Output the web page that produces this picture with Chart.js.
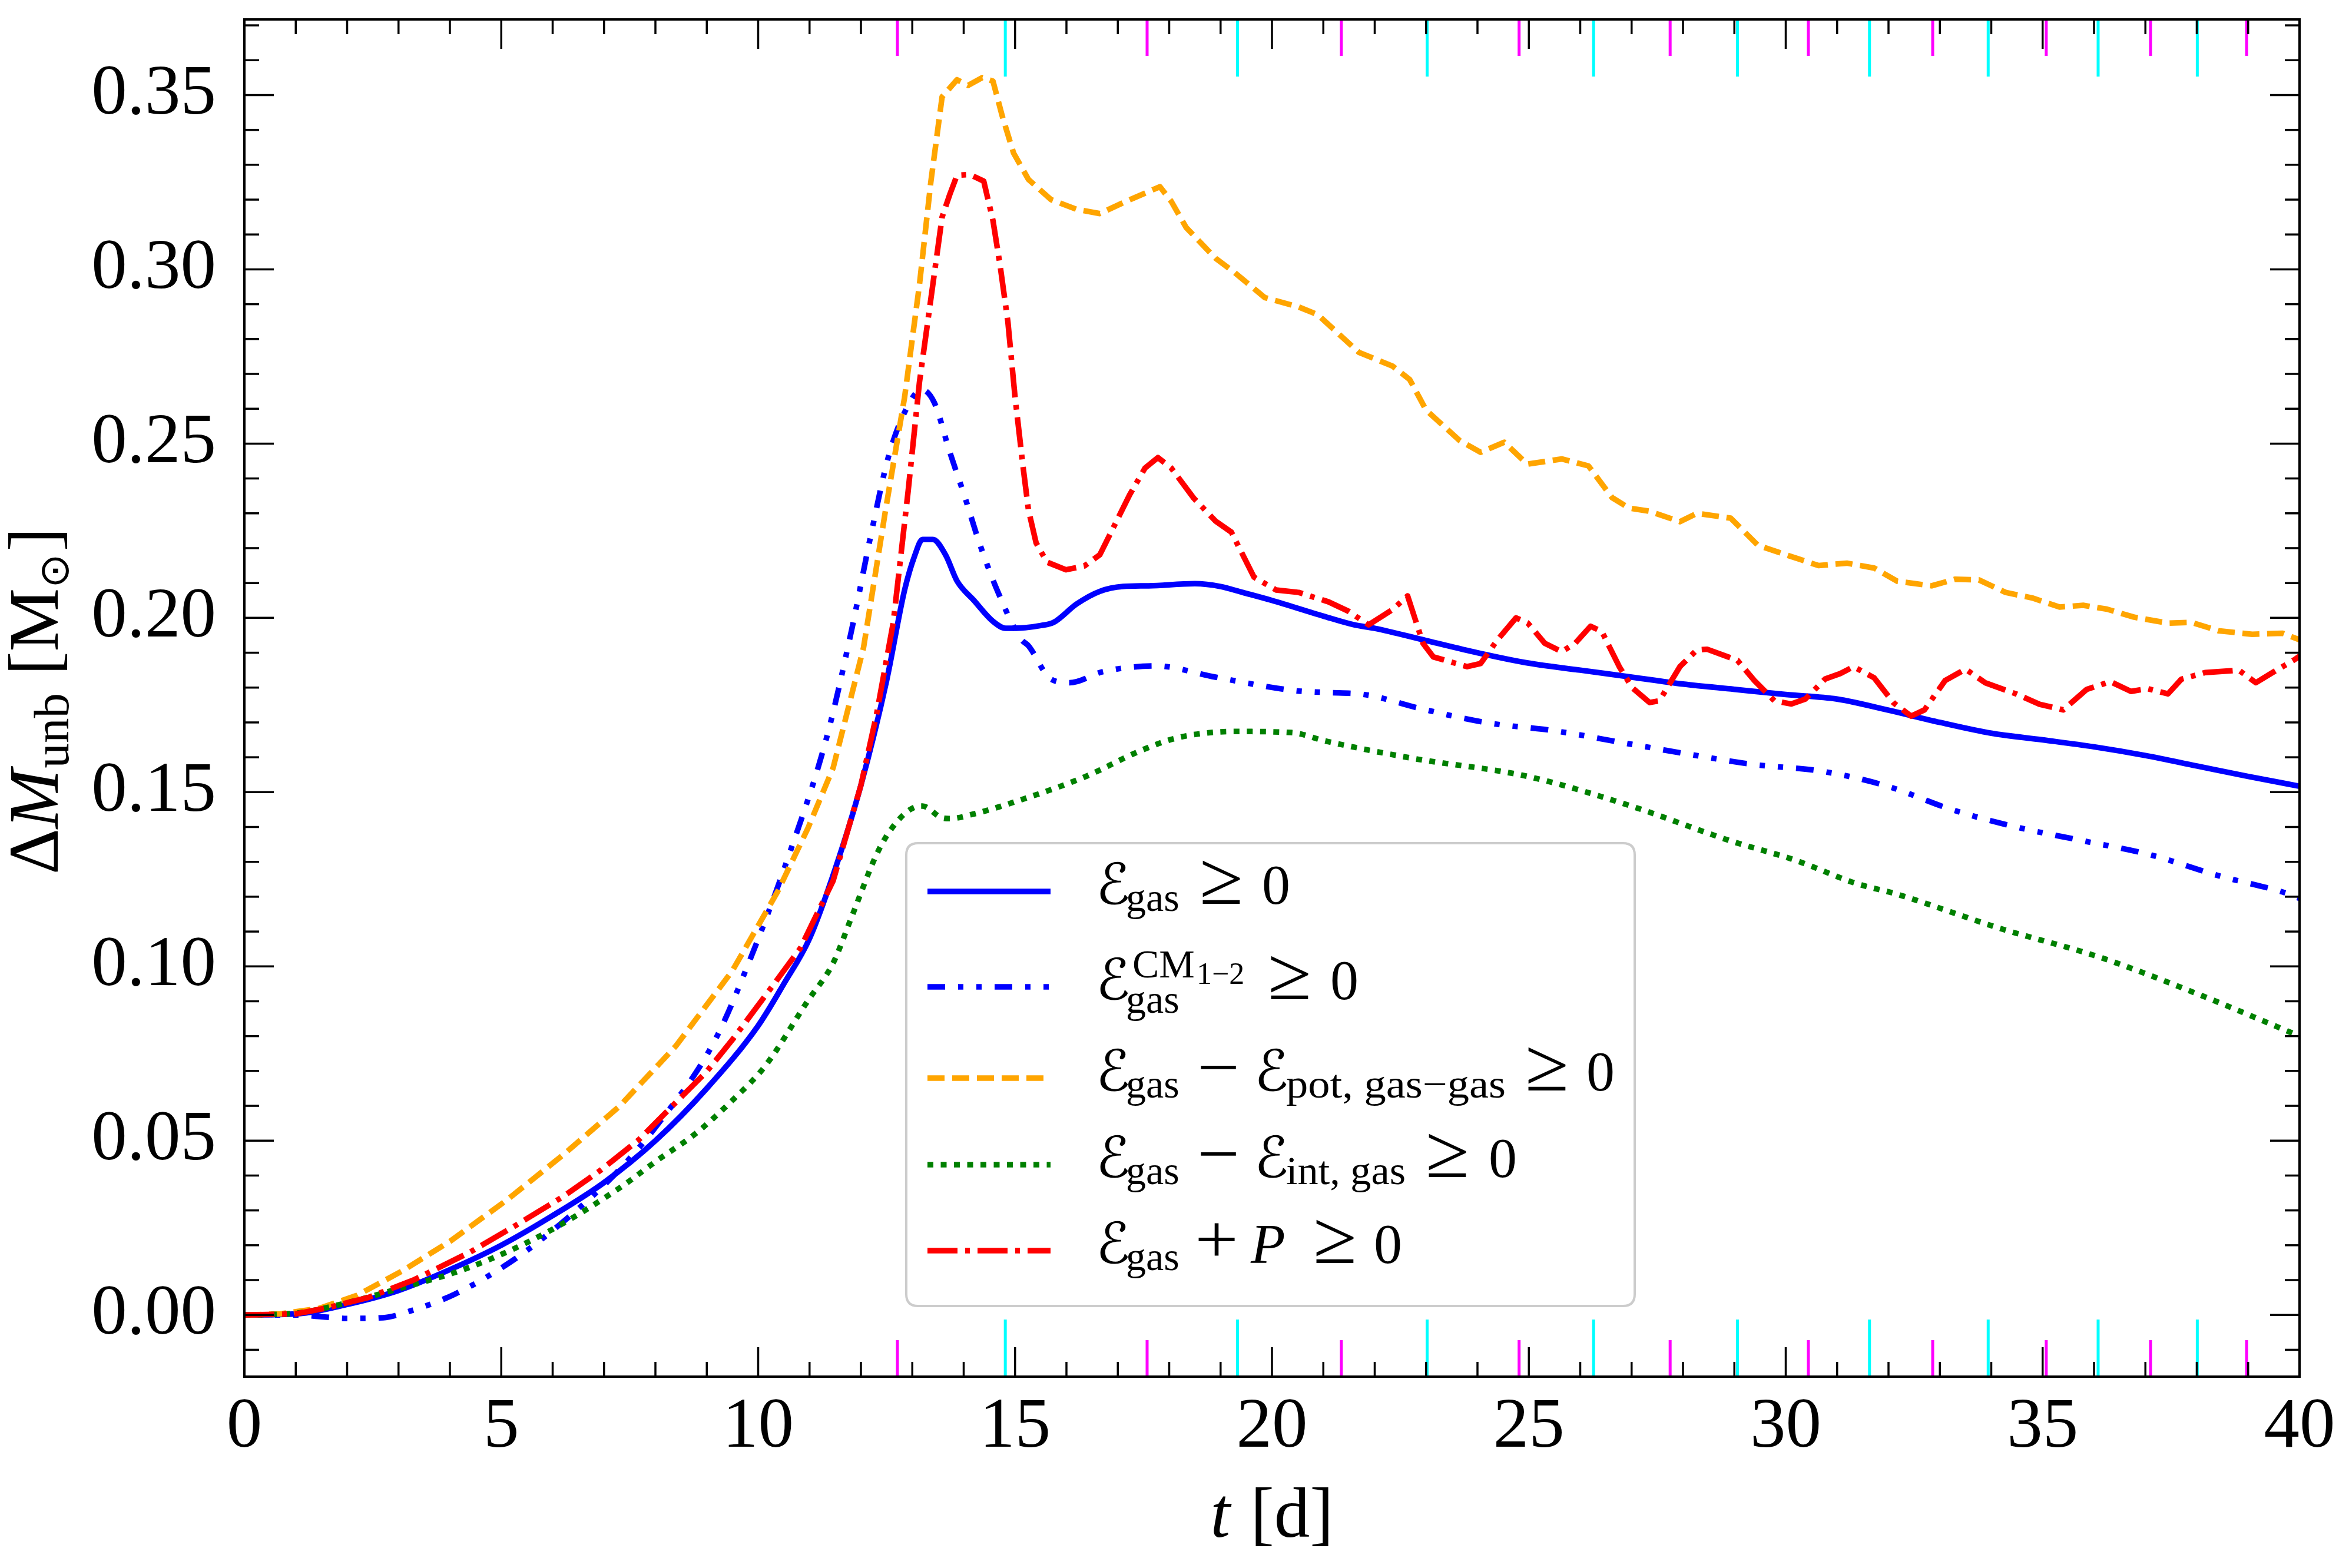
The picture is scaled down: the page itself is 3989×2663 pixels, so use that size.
<!DOCTYPE html>
<html>
<head>
<meta charset="utf-8">
<script src="https://cdn.jsdelivr.net/npm/chart.js@4.4.1/dist/chart.umd.min.js"></script>
<style>
html,body{margin:0;padding:0;background:#ffffff;}
canvas{display:block;}
</style>
</head>
<body>
<canvas id="c" width="3989" height="2663"></canvas>
<script>
// ---------------- data ----------------
const xTicks = [0, 5, 10, 15, 20, 25, 30, 35, 40];
const yTicks = [0.00, 0.05, 0.10, 0.15, 0.20, 0.25, 0.30, 0.35];
const xRange = [0, 40];
const yRange = [-0.0177, 0.3717];

// E_gas >= 0
const gasT = [0,1,2,3,4,5,6,7,8,9,10,10.5,11,11.5,12,12.5,12.85,13.05,13.2,13.4,13.65,13.87,14.2,14.57,14.82,15.2,15.5,15.75,16.2,16.65,17.1,17.6,18.5,19,19.43,20,21,21.6,22,23,24,25,26,27,28,29,30,31,32,33,34,35,36,37,38,39,40];
const gasV = [0,0.0003,0.003,0.007,0.013,0.020,0.0285,0.038,0.050,0.065,0.083,0.095,0.108,0.128,0.152,0.182,0.208,0.218,0.2225,0.2225,0.218,0.2106,0.205,0.199,0.197,0.1972,0.1978,0.1987,0.204,0.2076,0.209,0.2092,0.2098,0.209,0.2073,0.205,0.2005,0.198,0.197,0.1935,0.190,0.187,0.185,0.183,0.181,0.1795,0.178,0.1767,0.1735,0.170,0.1669,0.165,0.163,0.1605,0.1575,0.1545,0.1517];

// E_gas^{CM1-2} >= 0
const cmT = [0,1,1.5,2,2.7,3.2,4.1,5.26,6.36,7.3,8.04,9.13,9.87,10.6,11.33,11.82,12.19,12.55,12.92,13.18,13.43,13.72,14.02,14.31,14.67,15.11,15.26,15.7,16.06,16.72,17.74,18.9,20.4,21.03,21.8,22.94,24.19,25.5,26.82,28.14,29.39,30.7,31.98,33.23,34.48,35.8,37.1,38.43,39.74,40];
const cmV = [0,0,-0.0005,-0.001,-0.0008,0.001,0.006,0.016,0.0287,0.0417,0.0546,0.078,0.103,0.132,0.1655,0.1966,0.2235,0.247,0.261,0.2655,0.2617,0.248,0.2348,0.2213,0.2073,0.194,0.192,0.1824,0.1814,0.1846,0.1862,0.183,0.1792,0.1786,0.178,0.1738,0.1699,0.1676,0.1642,0.1608,0.1579,0.156,0.1517,0.145,0.140,0.136,0.132,0.126,0.121,0.1195];

// E_gas - E_pot,gas-gas >= 0
const potT = [0,0.7,1.46,2.19,3.07,4.02,5.12,6.21,7.31,8.4,9.5,10.38,10.97,11.46,12.05,12.48,12.85,13.14,13.36,13.58,13.87,14.09,14.36,14.57,14.75,14.97,15.26,15.7,16.2,16.65,17.16,17.82,18.04,18.33,18.9,19.28,19.86,20.52,20.89,21.69,22.35,22.68,23.0,23.66,24.06,24.52,24.97,25.64,26.16,26.62,26.95,27.35,27.94,28.27,28.93,29.46,30.25,30.64,31.19,31.72,32.17,32.84,33.3,33.76,34.28,34.8,35.33,35.79,36.25,36.78,37.44,37.9,38.42,39.08,39.67,40];
const potV = [0,0.0003,0.0019,0.0056,0.0126,0.0213,0.0331,0.046,0.060,0.0772,0.0988,0.1215,0.1397,0.157,0.1914,0.231,0.2633,0.2957,0.325,0.3495,0.3544,0.3528,0.355,0.354,0.344,0.3334,0.3258,0.320,0.3172,0.316,0.3195,0.3237,0.3195,0.312,0.3032,0.299,0.2919,0.2892,0.287,0.2762,0.2722,0.2684,0.2596,0.2508,0.2475,0.2504,0.2441,0.2456,0.2436,0.2345,0.2315,0.2306,0.2276,0.230,0.2286,0.2208,0.2169,0.215,0.2157,0.2143,0.2105,0.2092,0.2111,0.2109,0.2073,0.2057,0.2031,0.2036,0.2025,0.2002,0.1985,0.1987,0.1963,0.1953,0.1956,0.1937];

// E_gas - E_int,gas >= 0
const intT = [0,1,1.83,2.92,4.39,5.85,7.31,8.04,8.77,9.5,10.14,10.96,11.46,11.83,12.33,12.7,13.07,13.2,13.58,13.73,14.16,15.26,16.36,17.46,18.19,19.28,20.38,21.03,22.7,24.98,26.95,28.93,30.2,31.35,32.17,34.15,36.12,38.1,40];
const intV = [0,0.0005,0.0029,0.0072,0.0137,0.0234,0.0365,0.0444,0.0519,0.0616,0.0715,0.090,0.101,0.1146,0.1329,0.1415,0.1458,0.146,0.1426,0.1424,0.1436,0.1485,0.1544,0.162,0.1657,0.1674,0.1671,0.1647,0.1598,0.1545,0.1462,0.136,0.1304,0.1239,0.1207,0.111,0.1026,0.0916,0.080];

// E_gas + P >= 0
const presT = [0,1,1.6,2.41,3.29,4.39,5.26,6.21,6.95,7.68,8.4,8.99,9.5,10.23,10.82,11.46,12.0,12.3,12.63,12.92,13.14,13.36,13.58,13.73,13.87,14.12,14.39,14.57,14.71,14.86,15.0,15.15,15.26,15.41,15.62,15.99,16.35,16.65,16.94,17.23,17.53,17.78,18.04,18.48,18.9,19.21,19.65,20.08,20.52,21.1,21.49,21.88,22.35,22.64,22.94,23.14,23.8,24.06,24.39,24.75,24.98,25.31,25.64,25.9,26.2,26.42,26.76,27.01,27.35,27.54,27.94,28.27,28.47,29.06,29.39,29.78,30.11,30.38,30.77,31.06,31.32,31.72,32.1,32.44,32.7,33.1,33.5,33.88,34.48,34.94,35.4,35.86,36.32,36.72,37.04,37.44,37.7,38.16,38.82,39.15,39.55,39.87,40];
const presV = [0,0.0003,0.002,0.005,0.010,0.018,0.0255,0.034,0.0417,0.0503,0.061,0.0697,0.079,0.0934,0.1052,0.1246,0.152,0.172,0.1987,0.2365,0.2677,0.2914,0.315,0.3215,0.327,0.3272,0.3253,0.314,0.301,0.285,0.2633,0.244,0.231,0.2215,0.216,0.2138,0.2149,0.2181,0.2267,0.2353,0.243,0.246,0.243,0.2343,0.2278,0.2246,0.2117,0.208,0.2073,0.2046,0.2019,0.198,0.2024,0.2063,0.1927,0.1888,0.186,0.1869,0.1937,0.200,0.1985,0.1927,0.1903,0.1927,0.1976,0.1961,0.186,0.180,0.1757,0.1762,0.186,0.1908,0.191,0.1878,0.182,0.1762,0.1753,0.1767,0.1825,0.184,0.186,0.1828,0.1756,0.1718,0.1736,0.182,0.1853,0.1814,0.1782,0.1752,0.1736,0.1795,0.1817,0.1789,0.1797,0.1782,0.1824,0.1843,0.185,0.1814,0.185,0.1877,0.189];

// event markers along top/bottom axes (times in d)
const magentaT = [12.71, 17.57, 21.35, 24.81, 27.75, 30.44, 32.86, 35.07, 37.10, 38.97];
const cyanT = [14.81, 19.33, 23.02, 26.26, 29.06, 31.63, 33.94, 36.08, 38.01];

// ---------------- styling ----------------
const W = 3989, H = 2663;
const AREA = {left: 415, top: 33, right: 3905, bottom: 2338};
const LW = 9.5;
const styles = [
  {key:'gas',  color:'#0000ff', dash:[],                       order:5, mono:true},
  {key:'cm',   color:'#0000ff', dash:[30,22,9,22,9,22],        order:4, mono:true},
  {key:'pot',  color:'#ffa500', dash:[29,13],                  order:3, mono:false},
  {key:'int',  color:'#008000', dash:[10,12.5],                order:2, mono:true},
  {key:'pres', color:'#ff0000', dash:[51,13,8,13],             order:1, mono:false}
];
const seriesData = {
  gas: [gasT, gasV], cm: [cmT, cmV], pot: [potT, potV], int: [intT, intV], pres: [presT, presV]
};
function pts(T, V) { return T.map((t, i) => ({x: t, y: V[i]})); }

const SERIF = "'Liberation Serif', 'DejaVu Serif', serif";
const SCRIPT = "'DejaVu Serif', 'DejaVu Sans', 'Noto Sans', serif";
const SYM = "'DejaVu Sans', 'DejaVu Serif', sans-serif";
const TICK_PX = 121;

function rom(px) { return px + 'px ' + SERIF; }
function ita(px) { return 'italic ' + px + 'px ' + SERIF; }
function scr(px) { return px + 'px ' + SCRIPT; }
function sym(px) { return px + 'px ' + SYM; }

// legend rows: tokens placed at x offsets (px) from text start, dy from row baseline
const LM = 96, LS = 68, LSS = 52;
const REL = rom(128);
const OPS = rom(118);
const legendRows = [
  {key:'gas', base:1535, tokens:[
    {s:'ℰ', f:scr(LM), x:0}, {s:'gas', f:rom(LS), x:51, dy:12},
    {s:'≥', f:REL, x:176, w:74}, {s:'0', f:rom(LM), x:282}]},
  {key:'cm', base:1697, tokens:[
    {s:'ℰ', f:scr(LM), x:0}, {s:'CM', f:rom(LS), x:62, dy:-37},
    {s:'1−2', f:rom(LSS), x:171, dy:-26}, {s:'gas', f:rom(LS), x:51, dy:23},
    {s:'≥', f:REL, x:292, w:74}, {s:'0', f:rom(LM), x:398}]},
  {key:'pot', base:1852, tokens:[
    {s:'ℰ', f:scr(LM), x:0}, {s:'gas', f:rom(LS), x:51, dy:12},
    {s:'−', f:OPS, x:172, w:72}, {s:'ℰ', f:scr(LM), x:269},
    {s:'pot, gas−gas', f:rom(LS), x:323, dy:12, w:373},
    {s:'≥', f:REL, x:729, w:74}, {s:'0', f:rom(LM), x:833}]},
  {key:'int', base:1999, tokens:[
    {s:'ℰ', f:scr(LM), x:0}, {s:'gas', f:rom(LS), x:51, dy:12},
    {s:'−', f:OPS, x:172, w:72}, {s:'ℰ', f:scr(LM), x:269},
    {s:'int, gas', f:rom(LS), x:323, dy:12, w:203},
    {s:'≥', f:REL, x:560, w:74}, {s:'0', f:rom(LM), x:667}]},
  {key:'pres', base:2145, tokens:[
    {s:'ℰ', f:scr(LM), x:0}, {s:'gas', f:rom(LS), x:51, dy:12},
    {s:'+', f:OPS, x:168, w:74}, {s:'P', f:ita(LM), x:263},
    {s:'≥', f:REL, x:369, w:74}, {s:'0', f:rom(LM), x:472}]}
];
const LEG = {x0:1539, y0:1432, x1:2776, y1:2218, r:20, lineX0:1575, lineX1:1784, textX:1861};

function drawTokensAbs(ctx, x0, y0, tokens) {
  ctx.textBaseline = 'alphabetic';
  ctx.textAlign = 'left';
  for (const tk of tokens) {
    ctx.font = tk.f;
    const x = x0 + tk.x, y = y0 + (tk.dy || 0);
    if (tk.w) {
      const m = ctx.measureText(tk.s).width;
      ctx.save(); ctx.translate(x, y); ctx.scale(tk.w / m, 1); ctx.fillText(tk.s, 0, 0); ctx.restore();
    } else {
      ctx.fillText(tk.s, x, y);
    }
  }
}
function flowWidth(ctx, tokens) {
  let w = 0;
  for (const tk of tokens) { ctx.font = tk.f; w += ctx.measureText(tk.s).width + (tk.gap || 0); }
  return w;
}
function drawFlow(ctx, x, y, tokens) {
  ctx.textBaseline = 'alphabetic'; ctx.textAlign = 'left';
  for (const tk of tokens) {
    ctx.font = tk.f;
    ctx.fillText(tk.s, x, y + (tk.dy || 0));
    x += ctx.measureText(tk.s).width + (tk.gap || 0);
  }
}

const xTitle = [{s:'t', f:ita(TICK_PX), gap:4}, {s:' [d]', f:rom(TICK_PX)}];
const yTitle = [
  {s:'Δ', f:rom(TICK_PX)}, {s:'M', f:ita(TICK_PX), gap:2},
  {s:'unb', f:rom(85), dy:18},
  {s:' [M', f:rom(TICK_PX)}, {s:'⊙', f:sym(70), dy:18, gap:4}, {s:']', f:rom(TICK_PX)}
];

const decor = {
  id: 'decor',
  afterDatasetsDraw(chart) {
    const ctx = chart.ctx, a = chart.chartArea, xs = chart.scales.x, ys = chart.scales.y;
    ctx.save();
    ctx.lineCap = 'butt';
    function seg(x1, y1, x2, y2) { ctx.beginPath(); ctx.moveTo(x1, y1); ctx.lineTo(x2, y2); ctx.stroke(); }
    // event markers
    ctx.lineWidth = 5;
    ctx.strokeStyle = '#ff00ff';
    for (const t of magentaT) { const p = xs.getPixelForValue(t); seg(p, a.bottom, p, a.bottom - 62); seg(p, a.top, p, a.top + 62); }
    ctx.strokeStyle = '#00ffff';
    for (const t of cyanT) { const p = xs.getPixelForValue(t); seg(p, a.bottom, p, a.bottom - 97); seg(p, a.top, p, a.top + 97); }
    // ticks (inward, all four sides)
    ctx.strokeStyle = '#000000';
    ctx.lineWidth = 3.5;
    for (let t = xRange[0]; t <= xRange[1] + 1e-9; t += 1) {
      const major = Math.abs(t / 5 - Math.round(t / 5)) < 1e-9;
      const len = major ? 50 : 25;
      const p = xs.getPixelForValue(t);
      seg(p, a.bottom, p, a.bottom - len); seg(p, a.top, p, a.top + len);
    }
    for (let k = -1; k <= 37; k++) {
      const v = k / 100;
      if (v < yRange[0] || v > yRange[1]) continue;
      const len = (k % 5 === 0) ? 50 : 25;
      const p = ys.getPixelForValue(v);
      seg(a.left, p, a.left + len, p); seg(a.right, p, a.right - len, p);
    }
    // frame
    ctx.lineWidth = 4;
    ctx.strokeRect(a.left, a.top, a.right - a.left, a.bottom - a.top);
    ctx.restore();
  },
  afterDraw(chart) {
    const ctx = chart.ctx, a = chart.chartArea;
    ctx.save();
    ctx.fillStyle = '#000000';
    // x title
    const wx = flowWidth(ctx, xTitle);
    drawFlow(ctx, (a.left + a.right) / 2 - wx / 2, 2610, xTitle);
    // y title (rotated)
    const wy = flowWidth(ctx, yTitle);
    ctx.save();
    ctx.translate(98, (a.top + a.bottom) / 2 + 5);
    ctx.rotate(-Math.PI / 2);
    drawFlow(ctx, -wy / 2, 0, yTitle);
    ctx.restore();
    // legend frame
    const L = LEG;
    ctx.beginPath();
    ctx.moveTo(L.x0 + L.r, L.y0);
    ctx.lineTo(L.x1 - L.r, L.y0); ctx.quadraticCurveTo(L.x1, L.y0, L.x1, L.y0 + L.r);
    ctx.lineTo(L.x1, L.y1 - L.r); ctx.quadraticCurveTo(L.x1, L.y1, L.x1 - L.r, L.y1);
    ctx.lineTo(L.x0 + L.r, L.y1); ctx.quadraticCurveTo(L.x0, L.y1, L.x0, L.y1 - L.r);
    ctx.lineTo(L.x0, L.y0 + L.r); ctx.quadraticCurveTo(L.x0, L.y0, L.x0 + L.r, L.y0);
    ctx.closePath();
    ctx.fillStyle = 'rgba(255,255,255,0.8)';
    ctx.fill();
    ctx.strokeStyle = '#cccccc';
    ctx.lineWidth = 4;
    ctx.stroke();
    // legend entries
    for (const row of legendRows) {
      const st = styles.find(s => s.key === row.key);
      const yl = row.base - 21;
      ctx.save();
      ctx.strokeStyle = st.color; ctx.lineWidth = LW; ctx.lineCap = 'butt';
      ctx.setLineDash(st.dash);
      ctx.beginPath(); ctx.moveTo(L.lineX0, yl); ctx.lineTo(L.lineX1, yl); ctx.stroke();
      ctx.restore();
      ctx.fillStyle = '#000000';
      drawTokensAbs(ctx, L.textX, row.base, row.tokens);
    }
    ctx.restore();
  }
};

const datasets = styles.map(st => ({
  label: st.key,
  data: pts(seriesData[st.key][0], seriesData[st.key][1]),
  borderColor: st.color,
  backgroundColor: st.color,
  borderWidth: LW,
  borderDash: st.dash,
  borderCapStyle: 'butt',
  borderJoinStyle: 'round',
  pointRadius: 0,
  pointHoverRadius: 0,
  fill: false,
  tension: 0,
  cubicInterpolationMode: st.mono ? 'monotone' : 'default',
  order: st.order
}));

new Chart(document.getElementById('c'), {
  type: 'line',
  data: { datasets },
  options: {
    responsive: false,
    animation: false,
    devicePixelRatio: 1,
    events: [],
    layout: { padding: { left: 0, top: AREA.top, right: W - AREA.right, bottom: 0 } },
    plugins: { legend: { display: false }, tooltip: { enabled: false }, title: { display: false } },
    scales: {
      x: {
        type: 'linear', position: 'bottom', min: xRange[0], max: xRange[1],
        afterBuildTicks: s => { s.ticks = xTicks.map(v => ({ value: v })); },
        afterFit: s => { s.height = H - AREA.bottom; s.paddingLeft = 0; s.paddingRight = 0; s.paddingTop = 0; s.paddingBottom = 0; },
        ticks: { callback: v => String(v), color: '#000', autoSkip: false, maxRotation: 0, padding: 15,
                 font: { family: SERIF, size: TICK_PX, lineHeight: 1.2 } },
        grid: { display: false, drawTicks: false },
        border: { display: false }
      },
      y: {
        type: 'linear', position: 'left', min: yRange[0], max: yRange[1],
        afterBuildTicks: s => { s.ticks = yTicks.map(v => ({ value: v })); },
        afterFit: s => { s.width = AREA.left; s.paddingTop = 0; s.paddingBottom = 0; s.paddingLeft = 0; s.paddingRight = 0; },
        ticks: { callback: v => v.toFixed(2), color: '#000', autoSkip: false, padding: 48,
                 font: { family: SERIF, size: TICK_PX, lineHeight: 1.2 } },
        grid: { display: false, drawTicks: false },
        border: { display: false }
      }
    }
  },
  plugins: [decor]
});
</script>
</body>
</html>
